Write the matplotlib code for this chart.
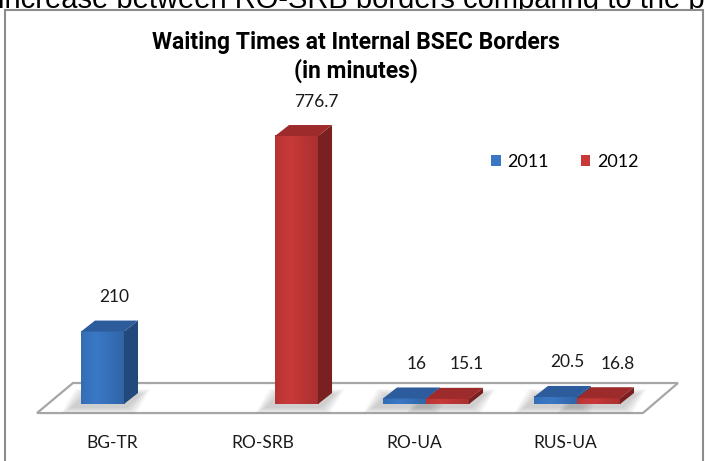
import numpy as np
import matplotlib.pyplot as plt
from matplotlib.patches import Patch, Rectangle

# chart data
categories = ["BG-TR", "RO-SRB", "RO-UA", "RUS-UA"]
years = ["2011", "2012"]
vals_2011 = [210, np.nan, 16, 20.5]
vals_2012 = [np.nan, 776.7, 15.1, 16.8]
labels_2011 = ["210", "", "16", "20.5"]
labels_2012 = ["", "776.7", "15.1", "16.8"]

# colours for (front, top, side) faces
blue = ("#3A78C6", "#2D5C9C", "#23497C")
red = ("#C93939", "#9E2B2B", "#7A2020")

# geometry, in data units
bar_w = 0.285
depth_x = 0.093
depth_y = 32

fig = plt.figure(figsize=(7.05, 4.61), dpi=100)
ax = fig.add_axes([0, 0, 1, 1])
ax.set_xlim(-0.821, 3.848)
ax.set_ylim(-165, 1171)
ax.axis("off")

# text cut off at the top of the screenshot (sits behind the chart frame)
fig.text(-0.003, 1 - 8 / 461, "increase between RO-SRB borders comparing to the previous year",
         family=["Liberation Sans", "DejaVu Sans"], fontsize=21, va="baseline", ha="left", zorder=-2)

# chart frame (behind the axes)
frame = Rectangle((5 / 705, -0.05), 698 / 705, 1.05 - 10.5 / 461, transform=fig.transFigure,
                  facecolor="white", edgecolor="#8C8C8C", lw=1.5, zorder=-1)
fig.patches.append(frame)


# floor of the 3D chart
floor_x = [-0.576, 3.437, 3.669, -0.338]
floor_y = [-26, -26, 61, 61]
ax.fill(floor_x, floor_y, facecolor="white", edgecolor="#A6A6A6", lw=1.6, zorder=2)


# soft shadow under a bar
def draw_shadow(x0, w):
    for k in range(6):
        grow = 0.012 * k
        ax.fill([x0 - 0.07 - grow, x0 + w + 0.02 + grow, x0 + w + depth_x + 0.02 + grow, x0 + depth_x - 0.07 - grow],
                [-12 - 3 * k, -12 - 3 * k, 28 + 3 * k, 28 + 3 * k],
                facecolor="#808080", edgecolor="none", alpha=0.07, zorder=3)


# one 3D bar with front, side and top faces
def draw_bar(x0, h, cols):
    if np.isnan(h):
        return
    front, top, side = cols
    # front face with a slight gradient
    grad = np.linspace(0, 1, 50).reshape(1, -1)
    grad = 1 - 0.25 * np.abs(grad - 0.35)
    base = np.array(plt.matplotlib.colors.to_rgb(front))
    img = (grad[..., None] * base[None, None, :] / grad.max()).clip(0, 1)
    ax.imshow(img, extent=(x0, x0 + bar_w, 0, h), aspect="auto", zorder=4, interpolation="bilinear")
    # side face
    ax.fill([x0 + bar_w, x0 + bar_w + depth_x, x0 + bar_w + depth_x, x0 + bar_w],
            [0, depth_y, h + depth_y, h], facecolor=side, edgecolor="none", zorder=4)
    # top face
    ax.fill([x0, x0 + bar_w, x0 + bar_w + depth_x, x0 + depth_x],
            [h, h, h + depth_y, h + depth_y], facecolor=top, edgecolor="none", zorder=4)


label_font = dict(family=["Lato", "DejaVu Sans"], fontsize=12.5, color="#1A1A1A")

for i, cat in enumerate(categories):
    if not np.isnan(vals_2011[i]):
        draw_shadow(i - bar_w, bar_w)
    if not np.isnan(vals_2012[i]):
        draw_shadow(i, bar_w)

for i, cat in enumerate(categories):
    draw_bar(i - bar_w, vals_2011[i], blue)
    draw_bar(i, vals_2012[i], red)

    # value labels above the bars
    if labels_2011[i]:
        ax.text(i - bar_w / 2 + 0.08, vals_2011[i] + 100, labels_2011[i], ha="center", va="center", **label_font)
    if labels_2012[i]:
        ax.text(i + bar_w / 2 + 0.13, vals_2012[i] + 100, labels_2012[i], ha="center", va="center", **label_font)

    # category labels under the floor
    ax.text(i - 0.08, -113, cat, ha="center", va="center", **label_font)

ax.set_xlim(-0.821, 3.848)
ax.set_ylim(-165, 1171)

# title
fig.text(0.505, 1 - 57 / 461, "Waiting Times at Internal BSEC Borders\n(in minutes)", ha="center", va="center",
         family=["Roboto", "DejaVu Sans"], fontweight="bold", fontsize=16.5, linespacing=1.2)

# legend
handles = [Patch(facecolor=blue[0], edgecolor="none"), Patch(facecolor=red[0], edgecolor="none")]
fig.legend(handles, years, loc="center", bbox_to_anchor=(0.801, 0.649), ncol=2, frameon=False,
           handlelength=0.55, handleheight=0.55, handletextpad=0.35, columnspacing=1.75,
           prop=dict(family="Lato", size=13))

plt.savefig("out.png", dpi=100)
